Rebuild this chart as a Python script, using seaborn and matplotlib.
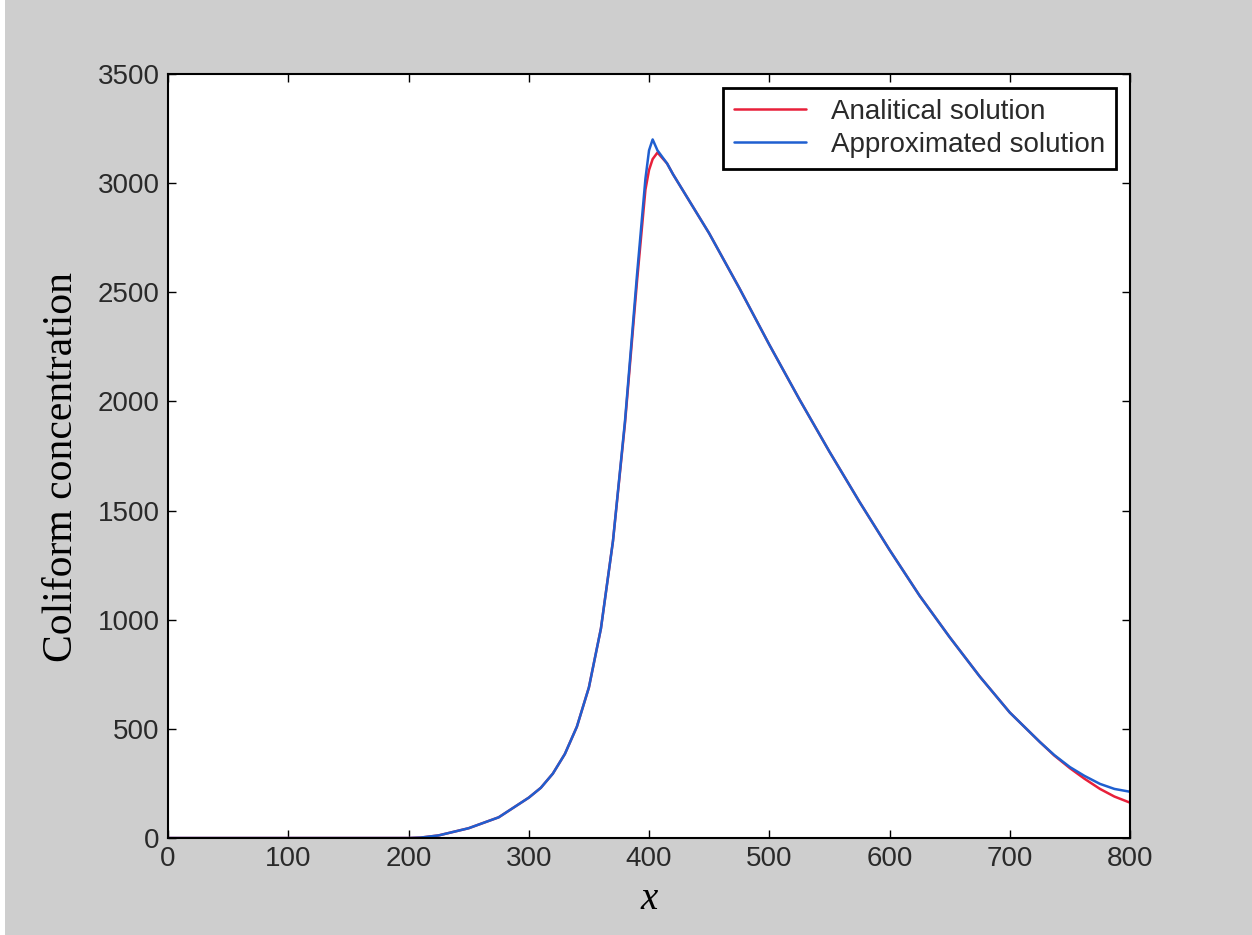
import numpy as np
import pandas as pd
import matplotlib
matplotlib.use("Agg")
import matplotlib.pyplot as plt
from matplotlib.patches import Rectangle
import seaborn as sns

# Values
x_pts = [0, 50, 100, 150, 200, 210, 225, 250, 275, 300, 310, 320, 330, 340,
         350, 360, 370, 380, 390, 397, 400, 403, 407, 415, 420, 450, 475,
         500, 525, 550, 575, 600, 625, 650, 675, 700, 725, 737, 750, 762,
         775, 787, 800]
analytical = [0, 0, 0, 0, 0, 2, 12, 45, 95, 185, 230, 295, 385, 510,
              690, 960, 1360, 1900, 2550, 2970, 3060, 3110, 3140, 3090,
              3040, 2770, 2520, 2260, 2010, 1770, 1540, 1320, 1110, 920,
              740, 575, 440, 378, 320, 272, 225, 190, 162]
approximated = [0, 0, 0, 0, 0, 2, 12, 45, 95, 185, 230, 295, 385, 510,
                690, 960, 1360, 1910, 2580, 3020, 3150, 3200, 3150, 3090,
                3040, 2770, 2520, 2260, 2010, 1770, 1540, 1320, 1110, 920,
                740, 575, 440, 380, 325, 285, 248, 225, 212]

x_ticks = [0, 100, 200, 300, 400, 500, 600, 700, 800]
y_ticks = [0, 500, 1000, 1500, 2000, 2500, 3000, 3500]

df = pd.concat([
    pd.DataFrame({"x": x_pts, "c": analytical, "s": "Analitical solution"}),
    pd.DataFrame({"x": x_pts, "c": approximated, "s": "Approximated solution"}),
])

sns.set_style("ticks")
plt.rcParams["font.family"] = ["Liberation Sans", "DejaVu Sans"]

fig = plt.figure(figsize=(12.52, 9.35), dpi=100)
fig.patch.set_facecolor("#cecece")
fig.add_artist(Rectangle((0, 0), 5 / 1252, 1, transform=fig.transFigure,
                         facecolor="white", edgecolor="none"))
ax = fig.add_axes([0.1342, 0.1037, 0.7684, 0.8172])
ax.set_facecolor("white")

sns.lineplot(data=df, x="x", y="c", hue="s", ax=ax,
             palette={"Analitical solution": "#e8203a",
                      "Approximated solution": "#1f5fd0"},
             linewidth=1.8, legend=True)

ax.set_xlim(0, 800)
ax.set_ylim(0, 3500)
ax.set_xticks(x_ticks)
ax.set_yticks(y_ticks)
ax.tick_params(direction="in", length=6, width=1, top=True, right=True,
               labelsize=20, colors="black", labelcolor="#2a2a2a", pad=6)
for sp in ax.spines.values():
    sp.set_visible(True)
    sp.set_color("black")
    sp.set_linewidth(1.5)

ax.set_xlabel("x", family=["Liberation Serif"], style="italic", fontsize=28,
              labelpad=6, color="black")
ax.set_ylabel("Coliform concentration", family=["Liberation Serif"],
              fontsize=30, color="black")
ax.yaxis.set_label_coords(-0.090, 0.486)

leg = ax.legend(loc="upper right", fontsize=20, frameon=True, fancybox=False,
                edgecolor="black", framealpha=1, borderpad=0.4,
                handlelength=2.6, handletextpad=0.9, labelspacing=0.25,
                borderaxespad=0.5)
leg.get_frame().set_linewidth(2)
for t in leg.get_texts():
    t.set_color("#2a2a2a")

fig.savefig("out.png", dpi=100, facecolor=fig.get_facecolor())
